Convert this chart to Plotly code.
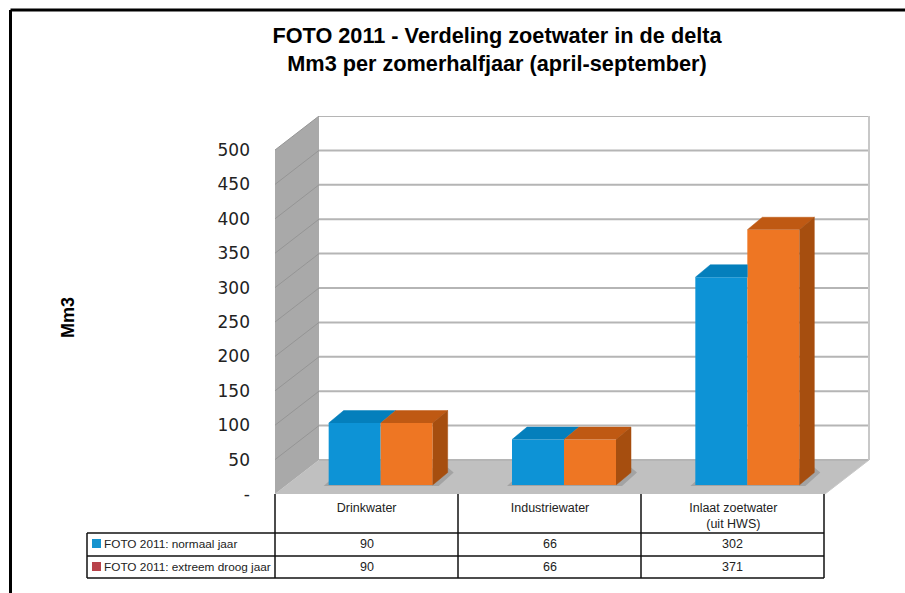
import plotly.graph_objects as go

categories = ["Drinkwater", "Industriewater", "Inlaat zoetwater<br>(uit HWS)"]
series_names = ["FOTO 2011: normaal jaar", "FOTO 2011: extreem droog jaar"]
normaal = [90, 66, 302]
droog = [90, 66, 371]
y_ticks = [0, 50, 100, 150, 200, 250, 300, 350, 400, 450, 500]
y_labels = ["-", "50", "100", "150", "200", "250", "300", "350", "400", "450", "500"]

W, H = 905, 593
X0, X1, Y0, Y1 = 275, 870, 494, 116
FRONT_W = 550
FRONT_H = 344
xmax = 3 * (X1 - X0) / FRONT_W
ymax = 500 * (Y0 - Y1) / FRONT_H
ux = 3 / FRONT_W
uy = 500 / FRONT_H

WALL_DX, WALL_DY = 44 * ux, 34 * uy
BAR_DX, BAR_DY = 14 * ux, 9 * uy
DEP_DX, DEP_DY = 15 * ux, 12.5 * uy
BAR_W = 52 * ux

BLUE, BLUE_TOP = "#0d93d6", "#047fbc"
ORANGE, ORANGE_TOP, ORANGE_SIDE = "#ee7623", "#bf5913", "#a64e0f"
GRID = "#b5b5b5"


def poly(pts):
    return "M " + " L ".join(f"{x},{y}" for x, y in pts) + " Z"


shapes = []


def data_shape(pts, fill, line="rgba(0,0,0,0)", width=0):
    shapes.append(dict(type="path", xref="x", yref="y", layer="below", path=poly(pts),
                       fillcolor=fill, line=dict(color=line, width=width)))


def data_line(pts, color, width):
    path = "M " + " L ".join(f"{x},{y}" for x, y in pts)
    shapes.append(dict(type="path", xref="x", yref="y", layer="below", path=path,
                       line=dict(color=color, width=width)))


# walls and floor
data_shape([(0, 0), (3, 0), (3 + WALL_DX, WALL_DY), (WALL_DX, WALL_DY)], "#c0c0c0")
data_shape([(0, 0), (WALL_DX, WALL_DY), (WALL_DX, 500 + WALL_DY), (0, 500)], "#a9a9a9")
for v in y_ticks[1:]:
    data_line([(0, v), (WALL_DX, v + WALL_DY)], "#959595", 1)
    data_line([(WALL_DX, v + WALL_DY), (3 + WALL_DX, v + WALL_DY)], GRID, 2)
data_line([(WALL_DX, WALL_DY), (3 + WALL_DX, WALL_DY)], GRID, 2)
data_line([(3 + WALL_DX, WALL_DY), (3 + WALL_DX, 500 + WALL_DY)], "#c8c8c8", 2)
data_line([(3, 0), (3 + WALL_DX, WALL_DY)], "#c8c8c8", 1)

centers = [i + 0.5 for i in range(len(categories))]
bar_x = [c + BAR_DX for c in centers]

# soft floor shadow beneath the bars
for c in bar_x:
    l, r = c - BAR_W - 5 * ux, c + BAR_W + DEP_DX + 6 * ux
    data_shape([(l, BAR_DY - 1 * uy), (r - DEP_DX, BAR_DY - 1 * uy), (r, BAR_DY + DEP_DY), (r - 6 * ux, BAR_DY + DEP_DY + 5 * uy),
                (l + DEP_DX, BAR_DY + DEP_DY)], "#a3a3a3")

fig = go.Figure()
fig.add_bar(x=bar_x, y=normaal, base=[BAR_DY] * 3, name=series_names[0], marker=dict(color=BLUE, line_width=0),
            showlegend=False)
fig.add_bar(x=bar_x, y=droog, base=[BAR_DY] * 3, name=series_names[1], marker=dict(color=ORANGE, line_width=0),
            showlegend=False)


def face(pts, color):
    fig.add_scatter(x=[p[0] for p in pts], y=[p[1] for p in pts], mode="lines", fill="toself",
                    fillcolor=color, line=dict(color=color, width=0.5), showlegend=False, hoverinfo="skip")


for c, a, b in zip(bar_x, normaal, droog):
    ha, hb = a + BAR_DY, b + BAR_DY
    mid = c
    left = c - BAR_W
    right = c + BAR_W
    # blue top: the taller orange bar hides whatever lies past its front face
    back_r = mid if b > a else mid + DEP_DX
    face([(left, ha), (left + DEP_DX, ha + DEP_DY), (back_r, ha + DEP_DY), (mid, ha)], BLUE_TOP)
    face([(mid, hb), (mid + DEP_DX, hb + DEP_DY), (right + DEP_DX, hb + DEP_DY), (right, hb)], ORANGE_TOP)
    face([(right, BAR_DY), (right + DEP_DX, BAR_DY + DEP_DY), (right + DEP_DX, hb + DEP_DY), (right, hb)], ORANGE_SIDE)


def px(x):
    return x / W


def py(y):
    return 1 - y / H


def tline(x0, y0, x1, y1, width=1.5, color="#111111"):
    shapes.append(dict(type="line", xref="paper", yref="paper", x0=px(x0), y0=py(y0), x1=px(x1), y1=py(y1),
                       line=dict(color=color, width=width)))


# outer frame
tline(10.5, 10, 905, 10, 3, "#000000")
tline(10.5, 10, 10.5, 593, 3, "#000000")

# data table
COLS = [275, 458, 641, 824]
ROWS = [533, 556, 578]
for x in COLS:
    tline(x, 494, x, 578)
tline(87, 533, 87, 578)
for y in ROWS:
    tline(87, y, 824, y)

annotations = []
for row, (name, vals, key, y) in enumerate(zip(series_names, [normaal, droog], ["#1593cf", "#b8424a"], [544, 567])):
    shapes.append(dict(type="rect", xref="paper", yref="paper", x0=px(92), x1=px(101), y0=py(y - 5), y1=py(y + 4),
                       fillcolor=key, line_width=0))
    annotations.append(dict(text=name, xref="paper", yref="paper", x=px(101.5), y=py(y), xanchor="left", yanchor="middle",
                            showarrow=False, font=dict(family="Liberation Sans", size=11.8, color="#222222")))
    for i, v in enumerate(vals):
        annotations.append(dict(text=str(v), xref="paper", yref="paper", x=px((COLS[i] + COLS[i + 1]) / 2), y=py(y),
                                xanchor="center", yanchor="middle", showarrow=False,
                                font=dict(family="Liberation Sans", size=12.5, color="#222222")))

annotations.append(dict(text="<b>Mm3</b>", xref="paper", yref="paper", x=px(68), y=py(318), textangle=-90,
                        xanchor="center", yanchor="middle", showarrow=False,
                        font=dict(family="Liberation Sans", size=18, color="#000000")))

fig.update_layout(
    width=W, height=H, margin=dict(l=0, r=0, t=0, b=0), paper_bgcolor="white", plot_bgcolor="white",
    barmode="group", bargap=1 - 2 * BAR_W, bargroupgap=0, showlegend=False, shapes=shapes, annotations=annotations,
    title=dict(text="<b>FOTO 2011 - Verdeling zoetwater in de delta<br>Mm3 per zomerhalfjaar (april-september)</b>",
               x=497 / W, xanchor="center", y=py(43), yanchor="middle",
               font=dict(family="Liberation Sans", size=21.7, color="#000000")),
    xaxis=dict(domain=[px(X0), px(X1)], range=[0, xmax], tickvals=centers, ticktext=categories, showgrid=False,
               automargin=False, zeroline=False, showline=False, ticks="", ticklabelstandoff=4,
               tickfont=dict(family="Liberation Sans", size=12.5, color="#222222")),
    yaxis=dict(domain=[py(Y0), py(Y1)], range=[0, ymax], tickvals=y_ticks, ticktext=y_labels, showgrid=False,
               automargin=False, zeroline=False, showline=False, ticks="", ticklabelstandoff=24,
               tickfont=dict(family="DejaVu Sans", size=17, color="#222222")),
)

fig.write_html("out.html", config={"displayModeBar": False}, post_script="document.body.style.margin='0';")
